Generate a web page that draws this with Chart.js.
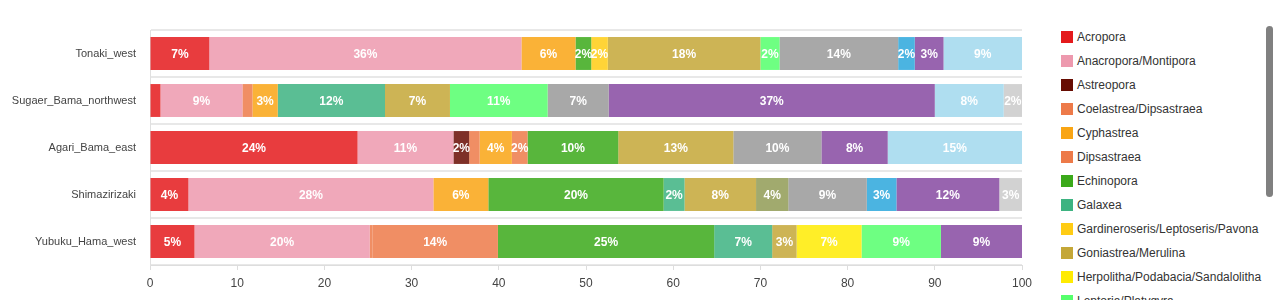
<!DOCTYPE html>
<html>
<head>
<meta charset="utf-8">
<script src="https://cdn.jsdelivr.net/npm/chart.js@4.4.1/dist/chart.umd.min.js"></script>
<style>
    html, body { margin: 0; padding: 0; background: #fff; overflow: hidden; }
    body { width: 1280px; height: 300px; position: relative; font-family: "Liberation Sans", Arial, sans-serif; }
    #chartBox { position: absolute; left: 0; top: 0; width: 1040px; height: 300px; }
    #legendBox {
        position: absolute; left: 1050px; top: 22px; width: 215px; height: 278px;
        overflow: hidden; box-sizing: border-box; padding: 3px 0 8px 0;
    }
    /* scroll thumb like in the original screenshot */
    #scrollThumb { position: absolute; left: 1266px; top: 26px; width: 7px; height: 171px; background: #808080; border-radius: 4px; }
    .leg-item { height: 24px; display: flex; align-items: center; font-size: 12px; color: #333; white-space: nowrap; }
    .leg-box { width: 12px; height: 12px; margin-left: 11px; margin-right: 4px; flex: none; }
</style>
</head>
<body>
<div id="chartBox"><canvas id="coralChart"></canvas></div>
<div id="legendBox"></div>
<div id="scrollThumb"></div>

<script>
// Sites (top to bottom)
const sites = ["Tonaki_west", "Sugaer_Bama_northwest", "Agari_Bama_east", "Shimazirizaki", "Yubuku_Hama_west"];

// Genera, in legend order
const genera = [
    "Acropora", "Anacropora/Montipora", "Astreopora", "Coelastrea/Dipsastraea", "Cyphastrea",
    "Dipsastraea", "Echinopora", "Galaxea", "Gardineroseris/Leptoseris/Pavona", "Goniastrea/Merulina",
    "Herpolitha/Podabacia/Sandalolitha", "Leptoria/Platygyra", "Lobophyllia", "Other",
    "Pocillopora", "Porites", "Soft_coral", "Unknown"
];

// Cover (%) per genus, one value per site in the order of `sites`
const acropora      = [6.8, 1.2, 23.8, 4.4, 5.1];
const anacropora    = [35.8, 9.4, 11.0, 28.1, 20.1];
const astreopora    = [0, 0, 1.8, 0, 0];
const coelastrea    = [0, 1.15, 1.2, 0, 0.3];
const cyphastrea    = [6.2, 2.9, 3.7, 6.3, 0];
const dipsastraea   = [0, 0, 1.8, 0, 14.4];
const echinopora    = [1.8, 0, 10.4, 20.1, 24.8];
const galaxea       = [0, 12.3, 0, 2.4, 6.65];
const gardineroseris = [1.9, 0, 0, 0, 0];
const goniastrea    = [17.5, 7.45, 13.2, 8.2, 2.8];
const herpolitha    = [0, 0, 0, 0, 7.45];
const leptoria      = [2.2, 11.2, 0, 0, 9.1];
const lobophyllia   = [0, 0, 0, 3.7, 0];
const other         = [13.6, 7.0, 10.1, 9.0, 0];
const pocillopora   = [1.9, 0, 0, 3.4, 0];
const porites       = [3.3, 37.4, 7.6, 11.8, 9.3];
const softCoral     = [9.0, 7.9, 15.4, 0, 0];
const unknown       = [0, 2.1, 0, 2.6, 0];

const seriesValues = [
    acropora, anacropora, astreopora, coelastrea, cyphastrea, dipsastraea, echinopora, galaxea,
    gardineroseris, goniastrea, herpolitha, leptoria, lobophyllia, other, pocillopora, porites,
    softCoral, unknown
];

const xTicks = [0, 10, 20, 30, 40, 50, 60, 70, 80, 90, 100];

// colours (legend swatch); bars use the same colour a bit transparent
const baseColors = [
    [228, 26, 28], [237, 153, 174], [103, 12, 2], [237, 122, 73], [249, 165, 20],
    [237, 122, 73], [59, 169, 26], [61, 179, 129], [255, 204, 20], [196, 167, 55],
    [255, 235, 2], [85, 255, 108], [144, 155, 85], [153, 153, 153], [43, 167, 220],
    [134, 73, 161], [161, 216, 237], [202, 202, 202]
];

const rgb = (c, a) => `rgba(${c[0]}, ${c[1]}, ${c[2]}, ${a})`;

const datasets = genera.map((name, i) => ({
    label: name,
    data: seriesValues[i],
    backgroundColor: rgb(baseColors[i], 0.85),
    borderWidth: 0,
    barPercentage: 0.7,
    categoryPercentage: 1.0
}));

// percent labels inside the segments
const segmentLabels = {
    id: "segmentLabels",
    afterDatasetsDraw(chart) {
        const ctx = chart.ctx;
        ctx.save();
        ctx.font = "bold 12px 'Liberation Sans', Arial, sans-serif";
        ctx.fillStyle = "#fff";
        ctx.textAlign = "center";
        ctx.textBaseline = "middle";
        chart.data.datasets.forEach((ds, i) => {
            const meta = chart.getDatasetMeta(i);
            meta.data.forEach((bar, j) => {
                const v = ds.data[j];
                if (v < 1.5) return;
                ctx.fillText(Math.round(v) + "%", (bar.x + bar.base) / 2, bar.y + 1);
            });
        });
        ctx.restore();
    }
};

const ctx = document.getElementById("coralChart").getContext("2d");
new Chart(ctx, {
    type: "bar",
    data: { labels: sites, datasets },
    options: {
        indexAxis: "y",
        responsive: true,
        maintainAspectRatio: false,
        animation: false,
        layout: { padding: { top: 30, right: 18, left: 0, bottom: 0 } },
        plugins: {
            legend: { display: false },
            tooltip: { enabled: false }
        },
        scales: {
            x: {
                stacked: true,
                min: 0,
                max: 100,
                afterBuildTicks: axis => { axis.ticks = xTicks.map(v => ({ value: v })); },
                grid: { drawOnChartArea: false, color: "#ddd", tickLength: 5 },
                border: { color: "#ddd" },
                ticks: { color: "#444", padding: 6, font: { size: 12, family: "'Liberation Sans', Arial, sans-serif" } },
                afterFit: axis => { axis.height = 35; }
            },
            y: {
                stacked: true,
                grid: { color: "#e8e8e8", lineWidth: 2, drawTicks: false, offset: true },
                border: { color: "#e0e0e0" },
                ticks: { color: "#444", padding: 14, font: { size: 11, family: "'Liberation Sans', Arial, sans-serif" } },
                afterFit: axis => { axis.width = 150; }
            }
        }
    },
    plugins: [segmentLabels]
});

// html legend on the right
const legendBox = document.getElementById("legendBox");
genera.forEach((name, i) => {
    const item = document.createElement("div");
    item.className = "leg-item";
    const box = document.createElement("span");
    box.className = "leg-box";
    box.style.background = rgb(baseColors[i], 1);
    const txt = document.createElement("span");
    txt.textContent = name;
    item.appendChild(box);
    item.appendChild(txt);
    legendBox.appendChild(item);
});
</script>
</body>
</html>
